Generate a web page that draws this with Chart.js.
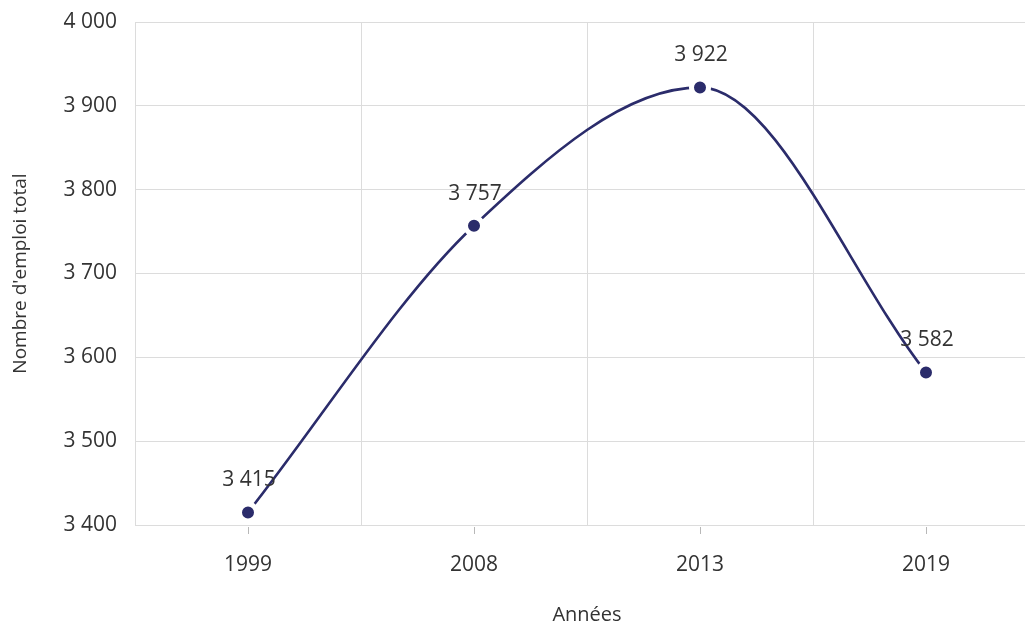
<!DOCTYPE html>
<html>
<head>
<meta charset="utf-8">
<script src="https://cdn.jsdelivr.net/npm/chart.js@4.4.0/dist/chart.umd.min.js"></script>
<style>
  html, body { margin: 0; padding: 0; background: #fff; overflow: hidden; }
  #wrap { position: relative; width: 1025px; height: 623px; }
</style>
</head>
<body>
<div id="wrap"><canvas id="emploi" width="1025" height="623"></canvas></div>
<script>
// Données
const annees = ['1999', '2008', '2013', '2019'];
const emploiTotal = [3415, 3757, 3922, 3582];
const yMin = 3400;
const yMax = 4000;
const yStep = 100;

const NAVY = '#2b2c6b';
const TEXT = '#333333';
const GRID = '#dcdcdc';
const FONT = '"Open Sans", "Noto Sans", sans-serif';
const PLOT_RIGHT = 1039; // la zone de tracé déborde à droite du cadre

// "3415" -> "3 415"
function fmt(v) {
  return String(v).replace(/\B(?=(\d{3})+(?!\d))/g, ' ');
}

// Élargit la zone de tracé au-delà du canvas, comme dans l'original
const overflowRight = {
  id: 'overflowRight',
  afterLayout(chart) {
    const x = chart.scales.x;
    const area = chart.chartArea;
    x.right = PLOT_RIGHT;
    x.width = x.right - x.left;
    area.right = PLOT_RIGHT;
    area.width = area.right - area.left;
    x.configure();
  }
};

// Étiquettes de valeur au-dessus des points + petits traits sous l'axe X
const extras = {
  id: 'extras',
  afterDatasetsDraw(chart) {
    const ctx = chart.ctx;
    const meta = chart.getDatasetMeta(0);
    ctx.save();
    ctx.font = '21px ' + FONT;
    ctx.fillStyle = TEXT;
    ctx.textAlign = 'center';
    ctx.textBaseline = 'middle';
    meta.data.forEach((pt, i) => {
      ctx.fillText(fmt(emploiTotal[i]), pt.x + 1, pt.y - 32);
    });
    const x = chart.scales.x;
    const bottom = chart.chartArea.bottom;
    ctx.strokeStyle = '#b8b8b8';
    ctx.lineWidth = 1;
    annees.forEach((a, i) => {
      const px = Math.round(x.getPixelForValue(i)) + 0.5;
      ctx.beginPath();
      ctx.moveTo(px, bottom + 2);
      ctx.lineTo(px, bottom + 9);
      ctx.stroke();
    });
    ctx.restore();
  }
};

new Chart(document.getElementById('emploi'), {
  type: 'line',
  data: {
    labels: annees,
    datasets: [{
      data: emploiTotal,
      borderColor: NAVY,
      borderWidth: 2.6,
      tension: 0.4,
      cubicInterpolationMode: 'monotone',
      fill: false,
      pointRadius: 8.5,
      pointHoverRadius: 8.5,
      pointBackgroundColor: NAVY,
      pointBorderColor: '#ffffff',
      pointBorderWidth: 5
    }]
  },
  options: {
    responsive: false,
    animation: false,
    layout: { padding: { top: 22, right: 0, bottom: 0, left: 0 } },
    plugins: {
      legend: { display: false },
      tooltip: { enabled: false }
    },
    scales: {
      x: {
        offset: true,
        grid: { offset: true, color: GRID, drawTicks: false },
        border: { color: GRID },
        ticks: { color: TEXT, font: { size: 21, family: FONT }, padding: 27, maxRotation: 0 },
        title: {
          display: true, text: 'Années', color: TEXT,
          font: { size: 20, family: FONT }, padding: { top: 0, bottom: -4 }
        },
        afterFit(scale) {
          scale.height = 98;
          scale.paddingLeft = 0;
          scale.paddingRight = 0;
        }
      },
      y: {
        min: yMin,
        max: yMax,
        grid: { color: GRID, drawTicks: false },
        border: { color: GRID },
        ticks: {
          stepSize: yStep, color: TEXT, padding: 18,
          font: { size: 21, family: FONT },
          callback: v => fmt(v)
        },
        title: {
          display: true, text: "Nombre d'emploi total", color: TEXT,
          font: { size: 19, family: FONT }, padding: { top: 9, bottom: 0 }
        },
        afterFit(scale) {
          scale.width = 135;
          scale.paddingTop = 0;
          scale.paddingBottom = 0;
        }
      }
    }
  },
  plugins: [overflowRight, extras]
});
</script>
</body>
</html>
